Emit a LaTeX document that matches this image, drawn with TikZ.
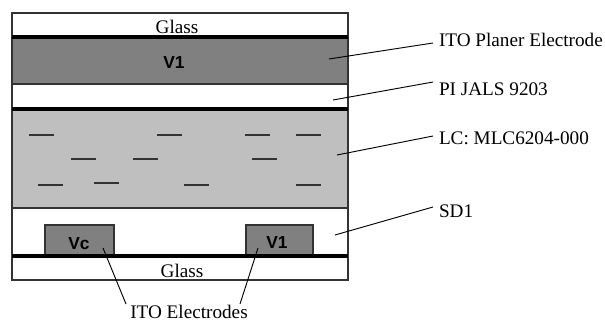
\documentclass[tikz,border=0pt]{standalone}
\usepackage{fontspec}
\setmainfont{Liberation Serif}
\newfontfamily\boldfont{Liberation Sans}
\definecolor{electrode}{gray}{0.50}
\definecolor{lc}{gray}{0.75}
\definecolor{edge}{gray}{0.20}
\usetikzlibrary{positioning}
\tikzstyle{base}=[x=0.75pt, y=-0.75pt, inner sep=0pt, outer sep=0pt]
\tikzstyle{layer}=[edge, line width=1.5pt]
\tikzstyle{seal}=[black, line width=2.6pt]
\tikzstyle{molecule}=[edge, line width=0.8pt]
\tikzstyle{leader}=[black, line width=0.7pt]
\tikzstyle{caption}=[font=\fontsize{14.4pt}{16pt}\selectfont]
\tikzstyle{label}=[caption, anchor=west]
\tikzstyle{volt}=[font=\boldfont\bfseries\fontsize{13pt}{14pt}\selectfont]

\begin{document}
\begin{tikzpicture}[base]
    \path [use as bounding box] (0,0) rectangle (605,322);
    % layers, top to bottom
    \draw [layer, fill=white] (12,13) rectangle (348,37);
    \draw [layer, fill=electrode] (12,37) rectangle (348,84);
    \draw [layer, fill=white] (12,84) rectangle (348,109);
    \draw [layer, fill=lc] (12,109) rectangle (348,208);
    \draw [layer, fill=white] (12,208) rectangle (348,256);
    \draw [layer, fill=white] (12,256) rectangle (348,280);
    \draw [layer, fill=electrode] (45,225) rectangle (114,255);
    \draw [layer, fill=electrode] (246,225) rectangle (313,255);
    \draw [seal] (12,37) -- (348,37);
    \draw [seal] (12,109) -- (348,109);
    \draw [seal] (12,256) -- (348,256);
    % molecules
    \foreach \xa/\ya in {29/135,157/135,245/135,296/135,71/159,133/159,252/159,38/185,94/183,184/185,296/185}
        \draw [molecule] (\xa,\ya) -- ++(25,0);
    % texts
    \node [caption] (glasstop) at (177,27) {Glass};
    \node [caption] (glassbot) at (182,271) {Glass};
    \node [volt] (vtop) at (174,63) {V1};
    \node [volt] (vc) at (79,244) {Vc};
    \node [volt] (vone) at (277,243) {V1};
    \node [label] (ito) at (439,40) {ITO Planer Electrode};
    \node [label] (pi) at (439,89) {PI JALS 9203};
    \node [label] (lcmix) at (439,138) {LC: MLC6204-000};
    \node [label] (sd) at (439,211) {SD1};
    \node [caption] (itoel) at (189,312) {ITO Electrodes};
    % leaders
    \coordinate (itoin) at (329,59);
    \coordinate (itoout) at (433,43);
    \coordinate (piin) at (333,100);
    \coordinate (piout) at (433,82);
    \coordinate (lcin) at (337,155);
    \coordinate (lcout) at (433,136);
    \coordinate (sdin) at (335,235);
    \coordinate (sdout) at (433,207);
    \coordinate (vcin) at (103,248);
    \coordinate (vcout) at (126,304);
    \coordinate (voin) at (258,248);
    \coordinate (voout) at (240,304);
    \draw [leader] (itoin) -- (itoout);
    \draw [leader] (piin) -- (piout);
    \draw [leader] (lcin) -- (lcout);
    \draw [leader] (sdin) -- (sdout);
    \draw [leader] (vcin) -- (vcout);
    \draw [leader] (voin) -- (voout);
\end{tikzpicture}
\end{document}
